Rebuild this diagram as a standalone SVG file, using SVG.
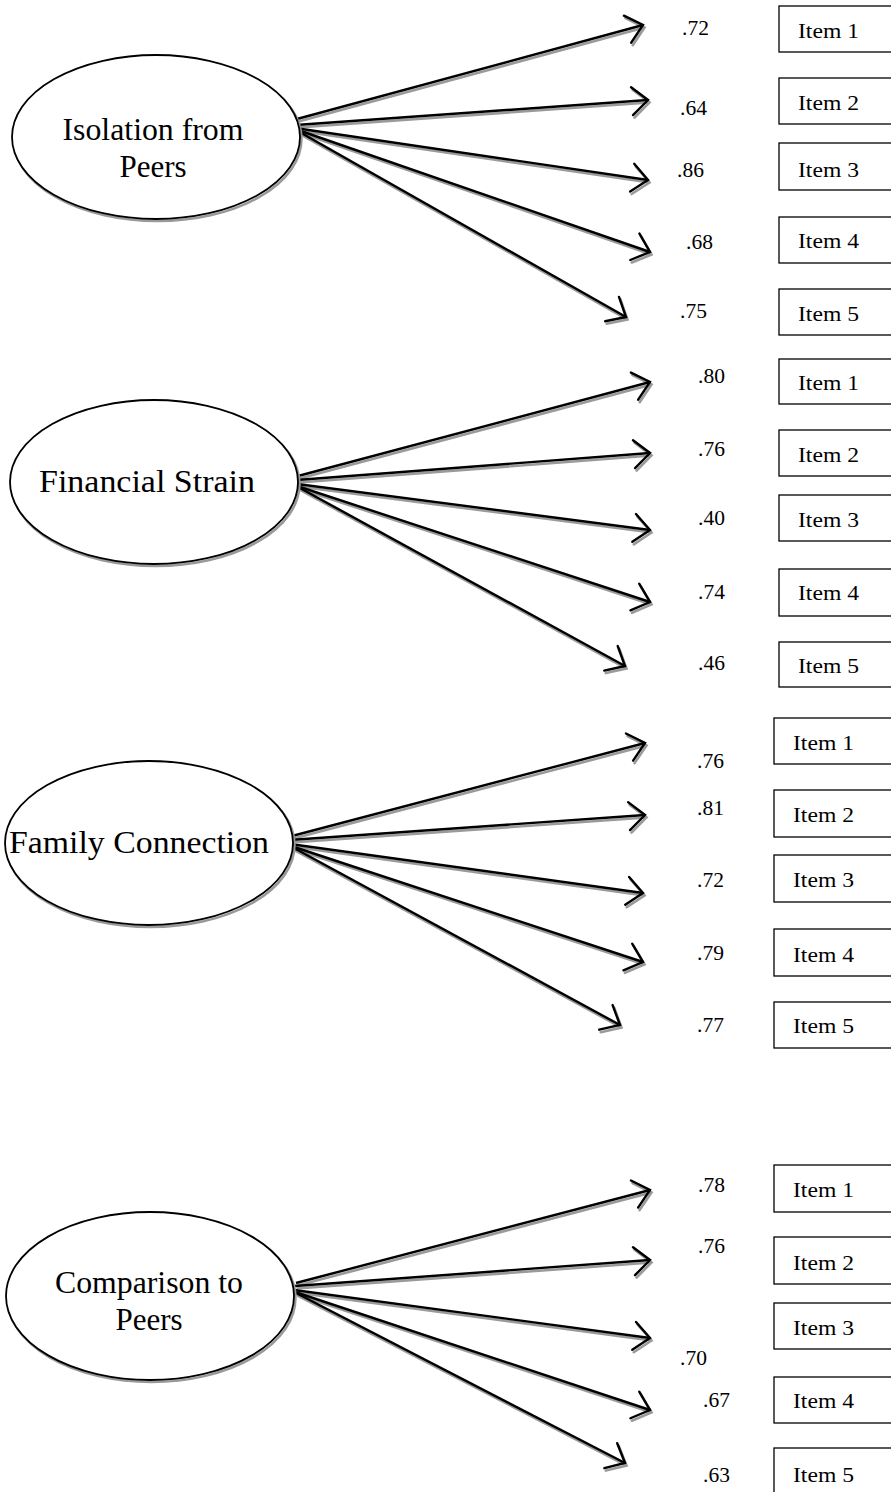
<svg xmlns="http://www.w3.org/2000/svg" xmlns:xlink="http://www.w3.org/1999/xlink" width="891" height="1492" viewBox="0 0 891 1492">
<style>
.bg{fill:#fff}
.lat{fill:#fff;stroke:#000;stroke-width:1.8}
.latsh{fill:none;stroke:#999;stroke-width:2.5}
.latT{font-family:"Liberation Serif","Times New Roman",serif;font-size:31px;fill:#000;text-anchor:middle}
.box{fill:#fff;stroke:#000;stroke-width:1.3}
.itemT{font-family:"Liberation Serif","Times New Roman",serif;font-size:21.5px;fill:#000}
.ld{font-family:"Liberation Serif","Times New Roman",serif;font-size:21.5px;fill:#000}
.main{stroke:#000;stroke-width:2.4;fill:none;marker-end:url(#hk)}
.shadow{stroke:#9a9a9a;stroke-width:2.6;fill:none;marker-end:url(#hg)}
</style>
<defs>
<marker id="hk" markerUnits="userSpaceOnUse" viewBox="-24 -20 30 40" markerWidth="30" markerHeight="40" refX="0" refY="0" orient="auto" overflow="visible">
<path d="M-16,-14 L0,0 L-16,14" fill="none" stroke="#000" stroke-width="2.4" stroke-linecap="round"/>
</marker>
<marker id="hg" markerUnits="userSpaceOnUse" viewBox="-24 -20 30 40" markerWidth="30" markerHeight="40" refX="0" refY="0" orient="auto" overflow="visible">
<path d="M-16,-14 L0,0 L-16,14" fill="none" stroke="#9a9a9a" stroke-width="2.6" stroke-linecap="round"/>
</marker>
</defs>
<rect class="bg" x="0" y="0" width="891" height="1492"/>

<g id="connectors">
<use xlink:href="#conn" href="#conn" class="shadow" transform="translate(1.5,2.5)"/>
<g class="main">
<g id="conn">
<line x1="297" y1="119" x2="643" y2="25"/>
<line x1="296" y1="125" x2="648" y2="100"/>
<line x1="295" y1="128" x2="648" y2="180"/>
<line x1="295" y1="129" x2="650" y2="252"/>
<line x1="296" y1="130" x2="626" y2="317"/>

<line x1="298" y1="476" x2="650" y2="382"/>
<line x1="297" y1="480" x2="650" y2="453"/>
<line x1="297" y1="484" x2="650" y2="530"/>
<line x1="297" y1="486" x2="650" y2="602"/>
<line x1="298" y1="487" x2="625" y2="666"/>

<line x1="292" y1="836" x2="645" y2="743"/>
<line x1="290" y1="840" x2="645" y2="815"/>
<line x1="290" y1="844" x2="643" y2="893"/>
<line x1="291" y1="846" x2="643" y2="962"/>
<line x1="292" y1="847" x2="620" y2="1025"/>

<line x1="296" y1="1283" x2="650" y2="1190"/>
<line x1="295" y1="1286" x2="650" y2="1260"/>
<line x1="294" y1="1290" x2="650" y2="1338"/>
<line x1="295" y1="1292" x2="650" y2="1410"/>
<line x1="296" y1="1293" x2="625" y2="1463"/>
</g>
</g>
<g id="loadings">
<text class="ld" x="682" y="35">.72</text>
<text class="ld" x="680" y="115">.64</text>
<text class="ld" x="677" y="177">.86</text>
<text class="ld" x="686" y="249">.68</text>
<text class="ld" x="680" y="318">.75</text>

<text class="ld" x="698" y="383">.80</text>
<text class="ld" x="698" y="456">.76</text>
<text class="ld" x="698" y="525">.40</text>
<text class="ld" x="698" y="599">.74</text>
<text class="ld" x="698" y="670">.46</text>

<text class="ld" x="697" y="768">.76</text>
<text class="ld" x="697" y="815">.81</text>
<text class="ld" x="697" y="887">.72</text>
<text class="ld" x="697" y="960">.79</text>
<text class="ld" x="697" y="1032">.77</text>

<text class="ld" x="698" y="1192">.78</text>
<text class="ld" x="698" y="1253">.76</text>
<text class="ld" x="680" y="1365">.70</text>
<text class="ld" x="703" y="1407">.67</text>
<text class="ld" x="703" y="1482">.63</text>
</g>
</g>

<g id="isolation">
<ellipse class="latsh" cx="157.5" cy="139" rx="144" ry="82"/>
<ellipse class="lat" cx="156" cy="137" rx="144" ry="82"/>
<text class="latT" x="153" y="140" textLength="181" lengthAdjust="spacingAndGlyphs">Isolation from</text>
<text class="latT" x="153" y="177">Peers</text>
</g>
<g id="financial">
<ellipse class="latsh" cx="155.5" cy="484" rx="144" ry="82"/>
<ellipse class="lat" cx="154" cy="482" rx="144" ry="82"/>
<text class="latT" x="147" y="492" textLength="216" lengthAdjust="spacingAndGlyphs">Financial Strain</text>
</g>
<g id="family">
<ellipse class="latsh" cx="150.5" cy="845" rx="144" ry="82"/>
<ellipse class="lat" cx="149" cy="843" rx="144" ry="82"/>
<text class="latT" x="139" y="853" textLength="260" lengthAdjust="spacingAndGlyphs">Family Connection</text>
</g>
<g id="comparison">
<ellipse class="latsh" cx="151.5" cy="1298" rx="144" ry="84"/>
<ellipse class="lat" cx="150" cy="1296" rx="144" ry="84"/>
<text class="latT" x="149" y="1293" textLength="188" lengthAdjust="spacingAndGlyphs">Comparison to</text>
<text class="latT" x="149" y="1330">Peers</text>
</g>

<g id="iso-item1"><rect class="box" x="779" y="6" width="130" height="46"/><text class="itemT" x="798" y="38" textLength="61" lengthAdjust="spacingAndGlyphs">Item 1</text></g>
<g id="iso-item2"><rect class="box" x="779" y="78" width="130" height="46"/><text class="itemT" x="798" y="110" textLength="61" lengthAdjust="spacingAndGlyphs">Item 2</text></g>
<g id="iso-item3"><rect class="box" x="779" y="143" width="130" height="47"/><text class="itemT" x="798" y="177" textLength="61" lengthAdjust="spacingAndGlyphs">Item 3</text></g>
<g id="iso-item4"><rect class="box" x="779" y="217" width="130" height="46"/><text class="itemT" x="798" y="248" textLength="61" lengthAdjust="spacingAndGlyphs">Item 4</text></g>
<g id="iso-item5"><rect class="box" x="779" y="289" width="130" height="46"/><text class="itemT" x="798" y="321" textLength="61" lengthAdjust="spacingAndGlyphs">Item 5</text></g>

<g id="fin-item1"><rect class="box" x="779" y="359" width="130" height="45"/><text class="itemT" x="798" y="390" textLength="61" lengthAdjust="spacingAndGlyphs">Item 1</text></g>
<g id="fin-item2"><rect class="box" x="779" y="430" width="130" height="46"/><text class="itemT" x="798" y="462" textLength="61" lengthAdjust="spacingAndGlyphs">Item 2</text></g>
<g id="fin-item3"><rect class="box" x="779" y="495" width="130" height="46"/><text class="itemT" x="798" y="527" textLength="61" lengthAdjust="spacingAndGlyphs">Item 3</text></g>
<g id="fin-item4"><rect class="box" x="779" y="569" width="130" height="47"/><text class="itemT" x="798" y="600" textLength="61" lengthAdjust="spacingAndGlyphs">Item 4</text></g>
<g id="fin-item5"><rect class="box" x="779" y="642" width="130" height="45"/><text class="itemT" x="798" y="673" textLength="61" lengthAdjust="spacingAndGlyphs">Item 5</text></g>

<g id="fam-item1"><rect class="box" x="774" y="718" width="130" height="46"/><text class="itemT" x="793" y="750" textLength="61" lengthAdjust="spacingAndGlyphs">Item 1</text></g>
<g id="fam-item2"><rect class="box" x="774" y="790" width="130" height="47"/><text class="itemT" x="793" y="822" textLength="61" lengthAdjust="spacingAndGlyphs">Item 2</text></g>
<g id="fam-item3"><rect class="box" x="774" y="855" width="130" height="47"/><text class="itemT" x="793" y="887" textLength="61" lengthAdjust="spacingAndGlyphs">Item 3</text></g>
<g id="fam-item4"><rect class="box" x="774" y="929" width="130" height="47"/><text class="itemT" x="793" y="962" textLength="61" lengthAdjust="spacingAndGlyphs">Item 4</text></g>
<g id="fam-item5"><rect class="box" x="774" y="1002" width="130" height="46"/><text class="itemT" x="793" y="1033" textLength="61" lengthAdjust="spacingAndGlyphs">Item 5</text></g>

<g id="cmp-item1"><rect class="box" x="774" y="1165" width="130" height="47"/><text class="itemT" x="793" y="1197" textLength="61" lengthAdjust="spacingAndGlyphs">Item 1</text></g>
<g id="cmp-item2"><rect class="box" x="774" y="1237" width="130" height="47"/><text class="itemT" x="793" y="1270" textLength="61" lengthAdjust="spacingAndGlyphs">Item 2</text></g>
<g id="cmp-item3"><rect class="box" x="774" y="1303" width="130" height="46"/><text class="itemT" x="793" y="1335" textLength="61" lengthAdjust="spacingAndGlyphs">Item 3</text></g>
<g id="cmp-item4"><rect class="box" x="774" y="1377" width="130" height="46"/><text class="itemT" x="793" y="1408" textLength="61" lengthAdjust="spacingAndGlyphs">Item 4</text></g>
<g id="cmp-item5"><rect class="box" x="774" y="1448" width="130" height="46"/><text class="itemT" x="793" y="1482" textLength="61" lengthAdjust="spacingAndGlyphs">Item 5</text></g>
</svg>
